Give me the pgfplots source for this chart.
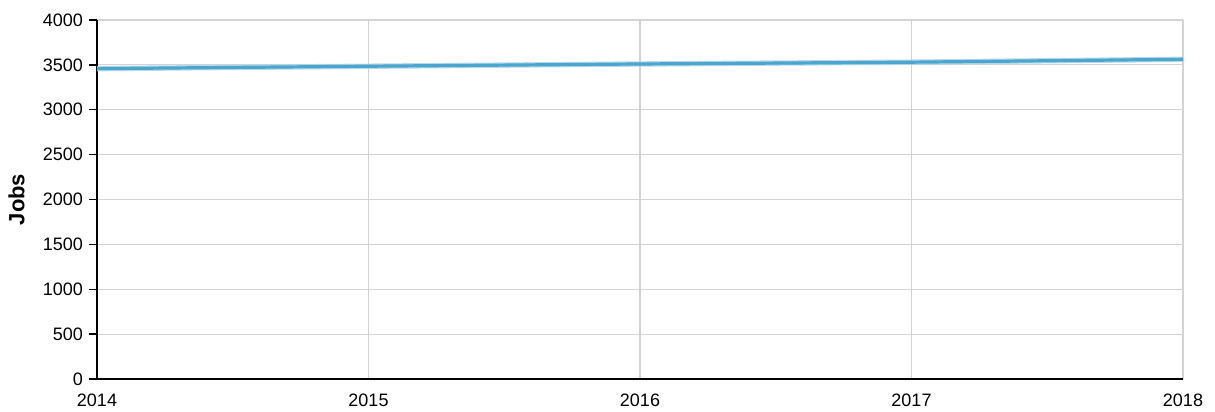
\documentclass[border=0pt]{standalone}
\usepackage{fontspec}
\setmainfont{Liberation Sans}
\usepackage{pgfplots}
\pgfplotsset{compat=1.18}
\definecolor{lineblue}{HTML}{4BA5CF}
\definecolor{bandblue}{HTML}{A9D3E8}
\definecolor{gridgray}{HTML}{D3D3D3}
\begin{document}
\begin{tikzpicture}
\path[use as bounding box] (-72.75pt,-24pt) rectangle (838.5pt,284.25pt);
\begin{axis}[
  at={(0pt,0pt)}, anchor=south west, scale only axis,
  width=814.5pt, height=269.25pt,
  xmin=2014, xmax=2018, ymin=0, ymax=4000,
  xtick={2014,2015,2016,2017,2018},
  ytick={0,500,1000,1500,2000,2500,3000,3500,4000},
  /pgf/number format/1000 sep={},
  /pgf/number format/assume math mode=true,
  tick label style={font=\fontsize{13.5}{15}\selectfont},
  axis x line*=bottom, axis y line*=left,
  axis line style={-, black, line width=1.1pt},
  grid=major,
  grid style={gridgray, line width=0.8pt},
  tick align=outside,
  major tick length=6pt,
  ytick style={black, line width=1pt},
  xtick style={draw=none},
  xticklabel style={yshift=-2pt},
  yticklabel style={xshift=-1pt},
  ylabel={\fontsize{16.5}{18}\selectfont\bfseries Jobs},
  ylabel style={at={(axis description cs:-0.0741,0.5)}, anchor=center},
]
% uncertainty band: upper bound then lower bound reversed
\addplot[fill=bandblue, draw=none, fill opacity=0.85, forget plot] coordinates {
  (2014,3488) (2015,3515) (2016,3540) (2017,3560) (2018,3592)
  (2018,3532) (2017,3500) (2016,3480) (2015,3455) (2014,3428)} -- cycle;
\addplot[lineblue, line width=2.4pt, mark=none] coordinates {(2014,3458) (2015,3485) (2016,3510) (2017,3530) (2018,3562)};
\end{axis}
\end{tikzpicture}
\end{document}
